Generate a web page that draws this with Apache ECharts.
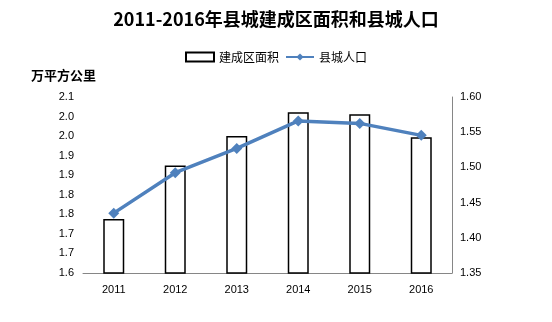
<!DOCTYPE html>
<html><head><meta charset="utf-8">
<script src="https://cdn.jsdelivr.net/npm/echarts@6/dist/echarts.min.js"></script>
<style>html,body{margin:0;padding:0;background:#fff}#c{width:552px;height:322px}</style>
</head><body><div id="c"></div>
<script>
const categories = ['2011','2012','2013','2014','2015','2016'];
const areaValues = [1.738, 1.875, 1.950, 2.011, 2.006, 1.947];
const popValues = [1.435, 1.4925, 1.527, 1.566, 1.5625, 1.5455];
const leftTickLabels = ['1.6','1.7','1.7','1.8','1.8','1.9','1.9','2.0','2.0','2.1'];
const rightTickLabels = ['1.35','1.40','1.45','1.50','1.55','1.60'];
const seriesNames = ['建成区面积','县城人口'];
const titleText = '2011-2016年县城建成区面积和县城人口';
const unitText = '万平方公里';

const font = '"Noto Sans CJK SC", "Noto Sans", sans-serif';
const chart = echarts.init(document.getElementById('c'));
chart.setOption({
  animation: false,
  backgroundColor: '#fff',
  title: {text: titleText, left: 'center', top: 5,
    textStyle: {fontFamily: font, fontSize: 18, fontWeight: 'bold', color: '#000'}},
  legend: {top: 46, left: 'center', itemGap: 6, itemWidth: 28, itemHeight: 9,
    textStyle: {fontFamily: font, fontSize: 12, color: '#000'},
    data: [{name: seriesNames[0], icon: 'rect'}, {name: seriesNames[1]}]},
  graphic: [{type: 'text', left: 31, top: 69,
    style: {text: unitText, font: 'bold 13px "Noto Sans CJK SC", sans-serif', fill: '#000'}}],
  grid: {left: 83, right: 100, top: 97, bottom: 49},
  xAxis: {type: 'category', data: categories,
    axisLine: {lineStyle: {color: '#868686', width: 1}},
    axisTick: {show: false},
    axisLabel: {color: '#000', fontSize: 11, fontFamily: 'Liberation Sans, Arial, sans-serif', margin: 11}},
  yAxis: [
    {type: 'value', min: 1.6, max: 2.05, interval: 0.05,
     axisLine: {show: false}, axisTick: {show: false}, splitLine: {show: false},
     axisLabel: {color: '#000', fontSize: 11, margin: 9, fontFamily: 'Liberation Sans, Arial, sans-serif',
       formatter: (v, i) => leftTickLabels[i] !== undefined ? leftTickLabels[i] : ''}},
    {type: 'value', min: 1.35, max: 1.6, interval: 0.05, position: 'right',
     axisLine: {show: true, lineStyle: {color: '#868686', width: 1}}, axisTick: {show: false}, splitLine: {show: false},
     axisLabel: {color: '#000', fontSize: 11, margin: 8, fontFamily: 'Liberation Sans, Arial, sans-serif',
       formatter: (v, i) => rightTickLabels[i] !== undefined ? rightTickLabels[i] : ''}}
  ],
  series: [
    {name: seriesNames[0], type: 'bar', yAxisIndex: 0, data: areaValues, barWidth: 21,
     itemStyle: {color: '#fff', borderColor: '#000', borderWidth: 1.5}},
    {name: seriesNames[1], type: 'line', yAxisIndex: 1, data: popValues, z: 5,
     symbol: 'diamond', symbolSize: 11,
     lineStyle: {color: '#4F81BD', width: 3.5},
     itemStyle: {color: '#4F81BD'}}
  ]
});
</script></body></html>
